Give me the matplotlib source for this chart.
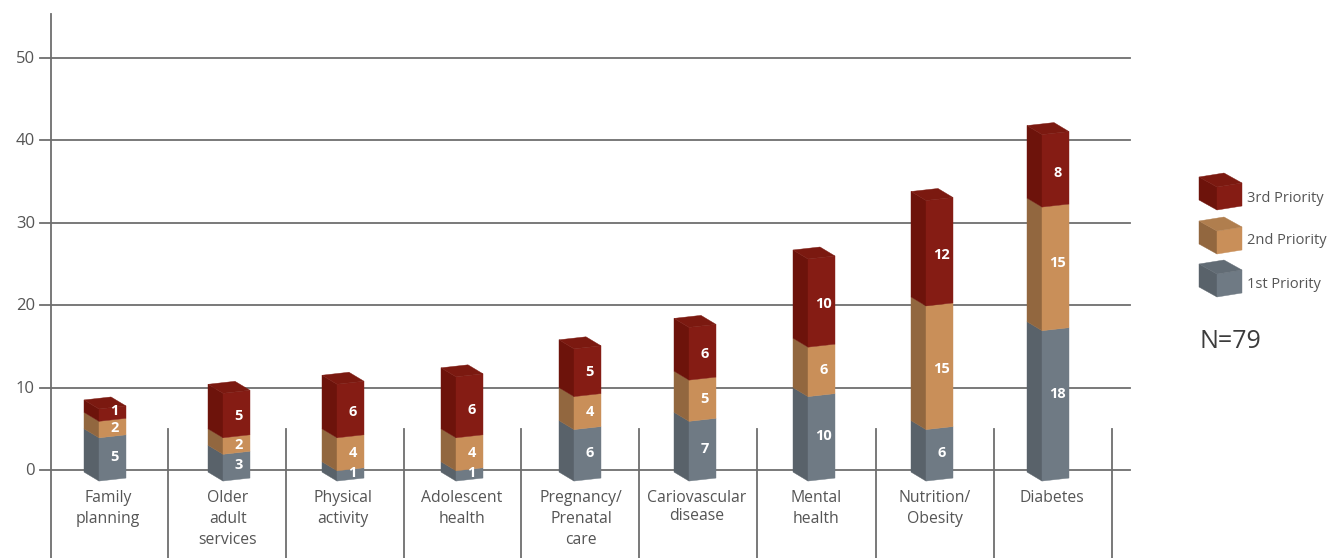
import matplotlib
matplotlib.use('Agg')
import matplotlib.pyplot as plt

categories = ['Family\nplanning', 'Older\nadult\nservices', 'Physical\nactivity', 'Adolescent\nhealth',
              'Pregnancy/\nPrenatal\ncare', 'Cariovascular\ndisease', 'Mental\nhealth',
              'Nutrition/\nObesity', 'Diabetes']
first = [5, 3, 1, 1, 6, 7, 10, 6, 18]
second = [2, 2, 4, 4, 4, 5, 6, 15, 15]
third = [1, 5, 6, 6, 5, 6, 10, 12, 8]
# the red blocks are drawn a bit taller than their printed value
top_extra = [0.5, 0.4, 0.5, 1.4, 0.8, 0.4, 0.7, 0.8, 0.8]
yticks = [0, 10, 20, 30, 40, 50]
priority_names = ['3rd Priority', '2nd Priority', '1st Priority']

# layout, x is in pixels, y is in chart units
bar_left = [84, 208, 322, 441, 559, 674, 793, 911, 1027]
label_x = [108, 228, 343, 462, 581, 697, 816, 935, 1052]
separators = [168, 286, 404, 521, 639, 757, 876, 994, 1112]
PX = 8.24  # pixels per chart unit
TEXT = '#555555'
LINE = '#6e6e6e'

# colours: front, side, top
red = ('#851c14', '#6d130b', '#7b1910')
tan = ('#c98f59', '#92673f', '#b07e4e')
grey = ('#6f7a84', '#59626a', '#626c75')

plt.rcParams['font.family'] = ['Open Sans', 'DejaVu Sans']
fig = plt.figure(figsize=(13.3, 5.58), dpi=100)
ax = fig.add_axes([0, 0, 1, 1])
ax.set_xlim(0, 1330)
ax.set_ylim(-88 / PX, 470 / PX)
ax.axis('off')


def block(x, y0, y1, cols, top=False, side_w=15, front_w=27, drop=9, rise=3):
    fx = x + side_w
    rx = fx + front_w
    d, r = drop / PX, rise / PX
    ax.fill([x, fx, fx, x], [y0, y0 - d, y1 - d, y1], color=cols[1], lw=0.3, zorder=3)
    ax.fill([fx, rx, rx, fx], [y0 - d, y0 - d + r, y1 - d + r, y1 - d], color=cols[0], lw=0.3, zorder=3)
    if top:
        ax.fill([x, fx, rx, x + front_w], [y1, y1 - d, y1 - d + r, y1 + r], color=cols[2], lw=0.3, zorder=4)


# grid lines and axis
for t in yticks:
    ax.plot([40, 1130], [t, t], color=LINE, lw=1.3, zorder=1)
    ax.text(35, t - 1 / PX, str(t), ha='right', va='center', fontsize=12, color=TEXT)
ax.plot([51, 51], [-88 / PX, 456 / PX], color=LINE, lw=1.3, zorder=1)
for s in separators:
    ax.plot([s, s], [-88 / PX, 41 / PX], color=LINE, lw=1.3, zorder=1)

# hand placed labels in the original
nudge = {(0, 2): 5, (8, 0): 9, (8, 1): 4, (7, 1): -3, (3, 2): 2, (4, 2): 2}

for i, cat in enumerate(categories):
    vals = [first[i], second[i], third[i]]
    x = bar_left[i]
    bottom = 0
    for j, (v, cols) in enumerate(zip(vals, [grey, tan, red])):
        y0 = bottom - 0.25 if j == 0 else bottom
        y1 = bottom + v + (top_extra[i] if j == 2 else 0)
        block(x, y0, y1, cols, top=j == 2)
        ymid = bottom + v / 2 - 7.5 / PX + nudge.get((i, j), 0) / PX
        ax.text(x + 30.5, ymid, str(v), ha='center', va='center', color='white',
                fontsize=10.5, fontweight='bold', zorder=5)
        bottom += v
    step = 18 if i == 5 else 21
    for k, line in enumerate(cat.split('\n')):
        ax.text(label_x[i], (470 - 498 - k * step) / PX, line, ha='center', va='center',
                fontsize=11.3, color=TEXT)

# legend, same block shape as the bars but wider
for name, cols, base, ty in zip(priority_names, [red, tan, grey], [200, 244, 287], [198.5, 240.5, 284.5]):
    y0 = (470 - base) / PX
    y1 = y0 + 23 / PX
    block(1199, y0, y1, cols, top=True, side_w=18, front_w=25, drop=10, rise=4)
    ax.text(1247, (470 - ty) / PX, name, ha='left', va='center', fontsize=10.5, color=TEXT)

ax.text(1200, (470 - 341) / PX, 'N=79', ha='left', va='center', fontsize=18, color='#3c3c3c')

fig.savefig('out.png', dpi=100)
